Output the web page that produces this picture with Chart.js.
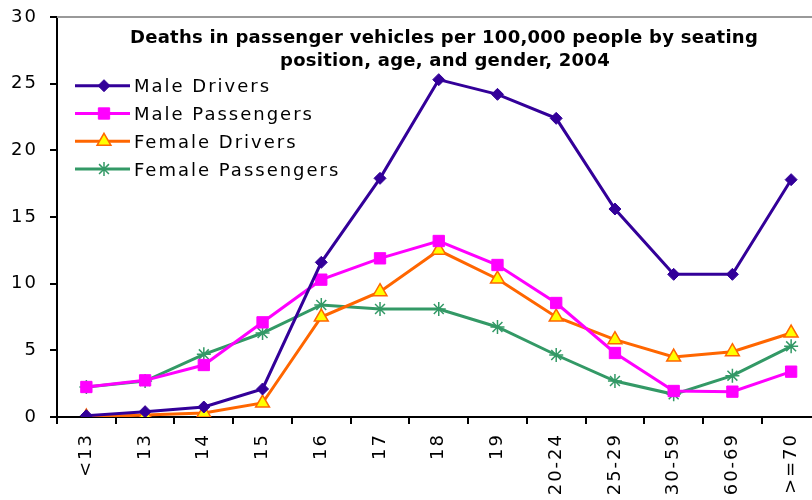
<!DOCTYPE html>
<html>
<head>
  <title>Deaths in passenger vehicles</title>
  <script src="https://cdn.jsdelivr.net/npm/chart.js"></script>
  <style>
    body { margin: 0; overflow: hidden; background: #fff; }
    #wrap { width: 830px; height: 520px; position: relative; }
  </style>
</head>
<body>
  <div id="wrap"><canvas id="deathsChart"></canvas></div>

  <script>
    // age groups on the x axis
    const ageGroups = ['<13', '13', '14', '15', '16', '17', '18', '19', '20-24', '25-29', '30-59', '60-69', '>=70'];

    // deaths per 100,000 people
    const maleDrivers      = [0.1, 0.4, 0.75, 2.1, 11.6, 17.9, 25.3, 24.2, 22.4, 15.6, 10.7, 10.7, 17.8];
    const malePassengers   = [2.25, 2.75, 3.9, 7.1, 10.3, 11.9, 13.2, 11.4, 8.55, 4.8, 1.95, 1.9, 3.4];
    const femaleDrivers    = [0, 0.15, 0.3, 1.05, 7.5, 9.4, 12.5, 10.35, 7.5, 5.8, 4.5, 4.9, 6.3];
    const femalePassengers = [2.25, 2.7, 4.7, 6.3, 8.4, 8.1, 8.1, 6.75, 4.65, 2.7, 1.7, 3.1, 5.3];

    const yTicks = [0, 5, 10, 15, 20, 25, 30];

    const titleLines = [
      'Deaths in passenger vehicles per 100,000 people by seating',
      'position, age, and gender, 2004'
    ];

    // title, legend and the grey top border are drawn inside the plot area
    const insidePlugin = {
      id: 'inside',
      beforeDraw(chart) {
        // wide-set tick labels like the old screen font
        chart.ctx.letterSpacing = '2px';
      },
      beforeDatasetsDraw(chart) {
        chart.ctx.letterSpacing = '0px';
      },
      afterDraw(chart) {
        const ctx = chart.ctx;
        const area = chart.chartArea;
        ctx.save();

        // top border of the plot area
        ctx.strokeStyle = '#999';
        ctx.lineWidth = 2;
        ctx.beginPath();
        ctx.moveTo(area.left, area.top);
        ctx.lineTo(area.right, area.top);
        ctx.stroke();

        // title
        ctx.fillStyle = '#000';
        ctx.font = 'bold 18px "DejaVu Sans"';
        ctx.letterSpacing = '0.25px';
        ctx.textAlign = 'center';
        ctx.textBaseline = 'alphabetic';
        ctx.fillText(titleLines[0], 444, 43);
        ctx.fillText(titleLines[1], 445, 66);

        // legend
        ctx.font = '18px "DejaVu Sans"';
        ctx.letterSpacing = '2px';
        ctx.textAlign = 'left';
        chart.data.datasets.forEach((ds, i) => {
          const y = 85.7 + i * 27.8;
          ctx.strokeStyle = ds.borderColor;
          ctx.lineWidth = 3;
          ctx.beginPath();
          ctx.moveTo(75, y);
          ctx.lineTo(130, y);
          ctx.stroke();
          ctx.fillStyle = ds.pointBackgroundColor;
          ctx.strokeStyle = ds.pointBorderColor;
          ctx.lineWidth = ds.pointBorderWidth;
          Chart.helpers.drawPoint(ctx, {
            pointStyle: ds.pointStyle,
            radius: ds.pointRadius,
            rotation: 0,
            borderWidth: ds.pointBorderWidth
          }, 104, y);
          ctx.fillStyle = '#000';
          ctx.fillText(ds.label, 134, y + 6.5);
        });
        ctx.restore();
      }
    };

    const ctx = document.getElementById('deathsChart').getContext('2d');
    new Chart(ctx, {
      type: 'line',
      data: {
        labels: ageGroups,
        datasets: [
          {
            label: 'Male Drivers',
            data: maleDrivers,
            borderColor: '#330099',
            borderWidth: 3,
            pointStyle: 'rectRot',
            pointRadius: 6,
            pointBackgroundColor: '#330099',
            pointBorderColor: '#330099',
            pointBorderWidth: 1
          },
          {
            label: 'Male Passengers',
            data: malePassengers,
            borderColor: '#FF00FF',
            borderWidth: 3,
            pointStyle: 'rect',
            pointRadius: 8,
            pointBackgroundColor: '#FF00FF',
            pointBorderColor: '#FF00FF',
            pointBorderWidth: 1
          },
          {
            label: 'Female Drivers',
            data: femaleDrivers,
            borderColor: '#FF6600',
            borderWidth: 3,
            pointStyle: 'triangle',
            pointRadius: 8,
            pointBackgroundColor: '#FFFF00',
            pointBorderColor: '#FF6600',
            pointBorderWidth: 1.5
          },
          {
            label: 'Female Passengers',
            data: femalePassengers,
            borderColor: '#339966',
            borderWidth: 3,
            pointStyle: 'star',
            pointRadius: 7,
            pointBackgroundColor: '#339966',
            pointBorderColor: '#339966',
            pointBorderWidth: 1.5
          }
        ]
      },
      options: {
        responsive: true,
        maintainAspectRatio: false,
        animation: false,
        layout: { padding: { top: 17, right: 9, left: 0, bottom: 0 } },
        plugins: {
          legend: { display: false },
          title: { display: false },
          tooltip: { enabled: false }
        },
        elements: { line: { tension: 0 } },
        scales: {
          x: {
            offset: true,
            grid: {
              offset: true,
              drawOnChartArea: false,
              tickLength: 7,
              lineWidth: 2,
              color: '#000'
            },
            border: { color: '#000', width: 2 },
            ticks: {
              autoSkip: false,
              minRotation: 90,
              maxRotation: 90,
              padding: 9,
              color: '#000',
              font: { family: 'DejaVu Sans', size: 18 }
            },
            afterFit(scale) {
              scale.height = 103;
              scale.paddingLeft = 0;
              scale.paddingRight = 0;
            }
          },
          y: {
            min: 0,
            max: 30,
            afterBuildTicks(scale) { scale.ticks = yTicks.map(v => ({ value: v })); },
            grid: {
              drawOnChartArea: false,
              tickLength: 7,
              lineWidth: 2,
              color: '#000'
            },
            border: { color: '#000', width: 2 },
            ticks: {
              padding: 12,
              color: '#000',
              font: { family: 'DejaVu Sans', size: 18 }
            },
            afterFit(scale) {
              scale.width = 57;
              scale.paddingTop = 0;
              scale.paddingBottom = 0;
            }
          }
        }
      },
      plugins: [insidePlugin]
    });
  </script>
</body>
</html>
